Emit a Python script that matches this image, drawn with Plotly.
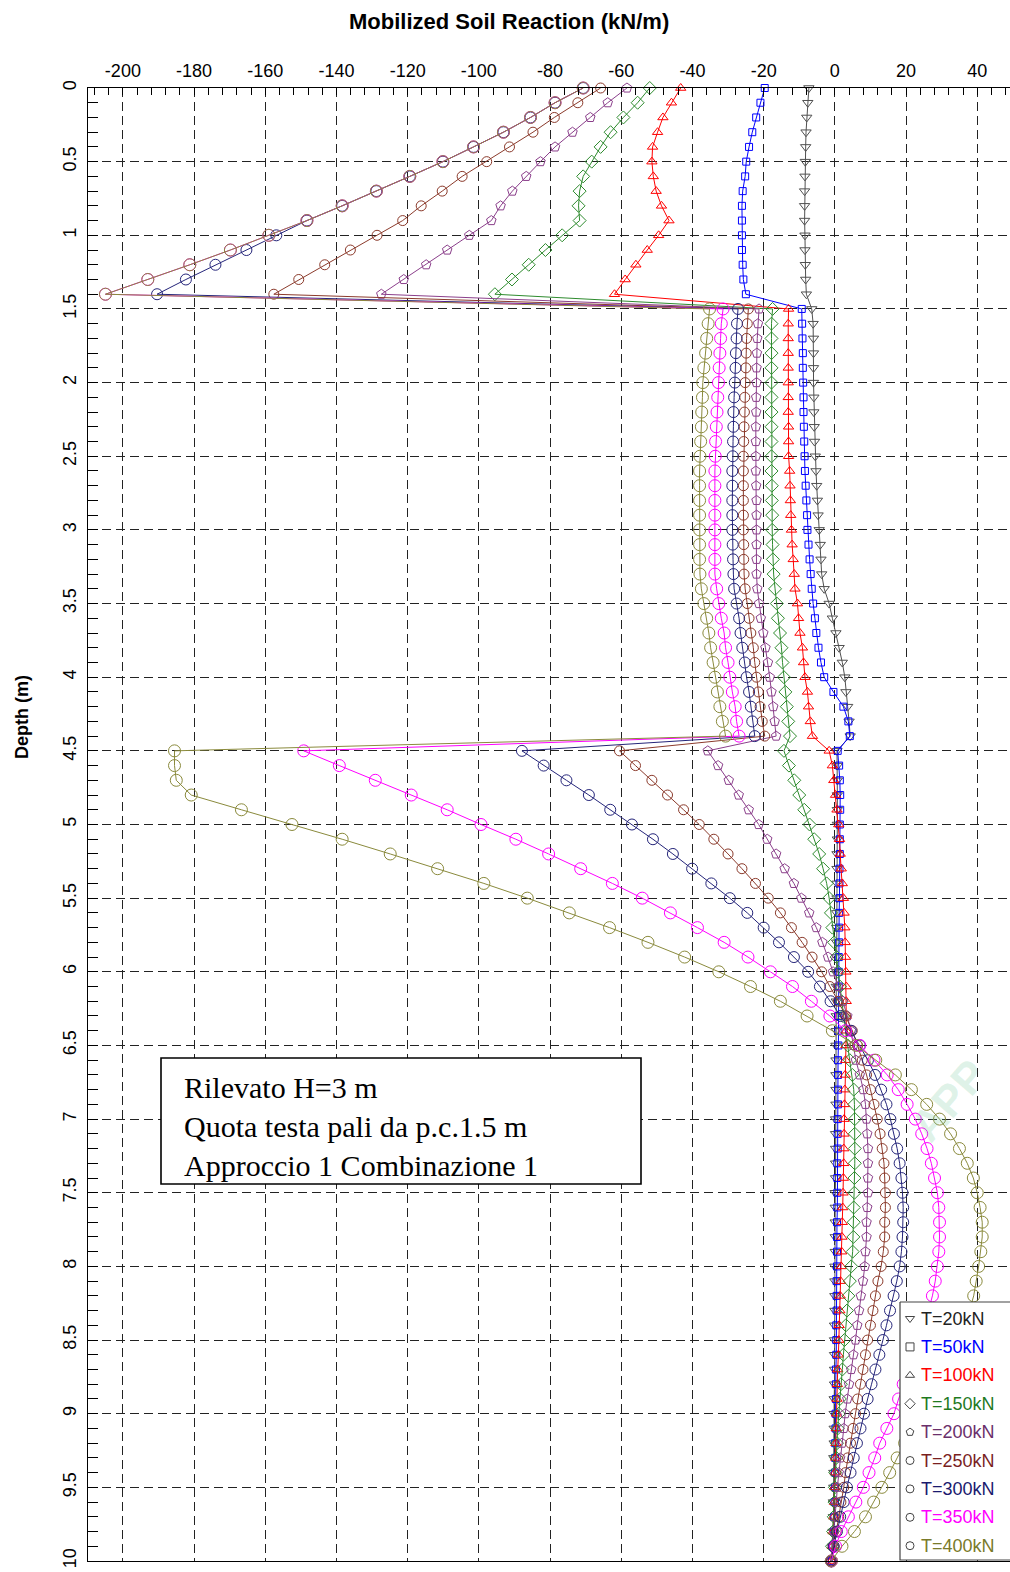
import plotly.graph_objects as go

# ---------------- data ----------------
DEPTH = [
    0.0, 0.1, 0.2, 0.3, 0.4, 0.5, 0.6, 0.7, 0.8, 0.9,
    1.0, 1.1, 1.2, 1.3, 1.4, 1.5, 1.6, 1.7, 1.8, 1.9,
    2.0, 2.1, 2.2, 2.3, 2.4, 2.5, 2.6, 2.7, 2.8, 2.9,
    3.0, 3.1, 3.2, 3.3, 3.4, 3.5, 3.6, 3.7, 3.8, 3.9,
    4.0, 4.1, 4.2, 4.3, 4.4, 4.5, 4.6, 4.7, 4.8, 4.9,
    5.0, 5.1, 5.2, 5.3, 5.4, 5.5, 5.6, 5.7, 5.8, 5.9,
    6.0, 6.1, 6.2, 6.3, 6.4, 6.5, 6.6, 6.7, 6.8, 6.9,
    7.0, 7.1, 7.2, 7.3, 7.4, 7.5, 7.6, 7.7, 7.8, 7.9,
    8.0, 8.1, 8.2, 8.3, 8.4, 8.5, 8.6, 8.7, 8.8, 8.9,
    9.0, 9.1, 9.2, 9.3, 9.4, 9.5, 9.6, 9.7, 9.8, 9.9,
    10.0,
]

T20 = [
    -7.3, -7.6, -7.9, -8.1, -8.2, -8.3, -8.4, -8.5, -8.5, -8.5,
    -8.4, -8.4, -8.3, -8.2, -8.0, -6.5, -6.1, -6.0, -6.0, -6.0,
    -6.0, -5.9, -5.9, -5.8, -5.7, -5.5, -5.3, -5.1, -4.9, -4.7,
    -4.4, -4.1, -3.9, -3.7, -3.0, -1.6, -0.7, 0.3, 1.2, 2.1,
    2.8, 3.1, 3.6, 4.0, 4.3, 0.6, 0.7, 0.7, 0.7, 0.7,
    0.7, 0.7, 0.6, 0.6, 0.6, 0.6, 0.5, 0.5, 0.5, 0.5,
    0.5, 0.4, 0.4, 0.4, 0.4, 0.3, 0.3, 0.3, 0.3, 0.3,
    0.2, 0.2, 0.2, 0.2, 0.2, 0.1, 0.1, 0.1, 0.1, 0.1,
    0.0, 0.0, 0.0, 0.0, -0.1, -0.1, -0.1, -0.1, -0.1, -0.2,
    -0.2, -0.2, -0.2, -0.3, -0.3, -0.3, -0.4, -0.4, -0.5, -0.6,
    -0.8,
]

T50 = [
    -19.7, -20.9, -22.1, -23.2, -24.1, -24.9, -25.2, -25.9, -26.1, -26.1,
    -26.1, -26.1, -25.9, -25.7, -25.0, -9.3, -9.2, -9.1, -9.0, -9.0,
    -8.9, -8.8, -8.8, -8.7, -8.6, -8.5, -8.4, -8.2, -8.0, -7.8,
    -7.7, -7.4, -7.1, -6.8, -6.5, -6.1, -5.6, -5.2, -4.6, -3.9,
    -3.0, -0.4, 2.4, 3.8, 4.2, 0.8, 1.2, 1.4, 1.5, 1.5,
    1.4, 1.4, 1.4, 1.3, 1.3, 1.3, 1.2, 1.2, 1.2, 1.1,
    1.1, 1.1, 1.0, 1.0, 1.0, 1.0, 0.9, 0.9, 0.9, 0.9,
    0.8, 0.8, 0.8, 0.7, 0.7, 0.7, 0.7, 0.6, 0.6, 0.6,
    0.6, 0.5, 0.5, 0.5, 0.4, 0.4, 0.4, 0.3, 0.3, 0.3,
    0.2, 0.2, 0.1, 0.1, 0.0, 0.0, -0.1, -0.2, -0.3, -0.5,
    -0.8,
]

T100 = [
    -43.3, -45.9, -48.3, -49.8, -51.2, -51.4, -51.0, -50.2, -48.7, -46.6,
    -49.5, -52.7, -55.9, -58.9, -61.9, -13.0, -13.1, -13.1, -13.1, -13.1,
    -13.1, -13.1, -13.1, -13.0, -13.0, -13.0, -12.7, -12.6, -12.5, -12.4,
    -12.2, -12.0, -11.7, -11.4, -11.2, -10.5, -10.2, -9.8, -9.1, -8.8,
    -8.4, -7.7, -7.4, -6.9, -6.3, -1.6, -0.7, -0.3, 0.2, 0.6,
    1.1, 1.3, 1.5, 1.8, 2.1, 2.4, 2.6, 2.8, 2.9, 3.0,
    3.1, 3.2, 3.2, 3.2, 3.2, 3.1, 3.0, 2.9, 2.8, 2.7,
    2.6, 2.6, 2.5, 2.5, 2.4, 2.3, 2.2, 2.1, 2.0, 1.9,
    1.8, 1.6, 1.5, 1.4, 1.2, 1.1, 1.0, 0.8, 0.7, 0.6,
    0.5, 0.4, 0.3, 0.2, 0.1, 0.0, -0.1, -0.3, -0.5, -0.7,
    -1.0,
]

T150 = [
    -52.0, -55.4, -59.4, -63.0, -65.8, -68.3, -70.7, -71.7, -72.0, -71.7,
    -76.6, -81.3, -86.0, -90.7, -95.5, -17.5, -17.8, -17.8, -17.8, -17.8,
    -17.8, -17.8, -17.8, -17.8, -17.8, -17.8, -17.8, -17.7, -17.7, -17.6,
    -17.6, -17.5, -17.4, -17.2, -16.8, -16.3, -16.0, -15.4, -15.0, -14.7,
    -14.3, -13.9, -13.5, -13.1, -12.6, -14.3, -12.9, -11.4, -10.0, -8.6,
    -7.1, -5.8, -4.4, -3.3, -2.3, -1.6, -1.1, -0.7, -0.2, 0.5,
    0.9, 1.4, 1.9, 2.3, 3.0, 3.6, 4.2, 4.9, 5.3, 5.5,
    5.6, 5.6, 5.6, 5.6, 5.5, 5.5, 5.3, 5.3, 5.2, 5.0,
    4.6, 4.2, 3.8, 3.4, 3.1, 2.7, 2.4, 2.1, 1.7, 1.4,
    1.1, 0.8, 0.6, 0.4, 0.1, 0.0, -0.1, -0.3, -0.5, -0.8,
    -1.0,
]

T200 = [
    -58.4, -63.8, -68.7, -73.7, -78.6, -82.7, -86.7, -90.6, -93.9, -96.5,
    -102.7, -108.9, -114.8, -121.1, -127.4, -21.3, -21.6, -21.8, -21.9, -22.0,
    -22.0, -22.1, -22.1, -22.2, -22.2, -22.2, -22.2, -22.1, -22.0, -22.0,
    -22.0, -22.0, -22.0, -22.0, -21.8, -21.3, -20.8, -20.1, -19.5, -18.8,
    -18.3, -17.8, -17.3, -16.9, -16.5, -35.7, -32.8, -29.8, -27.0, -24.2,
    -21.4, -19.0, -16.5, -14.1, -11.5, -9.4, -7.2, -5.2, -3.5, -1.9,
    -0.5, 0.9, 2.3, 3.5, 4.5, 5.2, 5.9, 7.0, 8.0, 8.6,
    8.9, 9.1, 9.3, 9.3, 9.3, 9.3, 9.1, 8.9, 8.9, 8.6,
    8.4, 7.9, 7.3, 6.8, 6.3, 5.8, 5.2, 4.6, 4.0, 3.5,
    2.9, 2.5, 2.0, 1.5, 1.1, 0.7, 0.4, 0.1, -0.2, -0.7,
    -1.2,
]

T250 = [
    -65.8, -72.2, -78.8, -84.8, -91.4, -97.8, -104.7, -110.3, -116.2, -121.4,
    -128.6, -136.1, -143.3, -150.6, -157.6, -24.3, -24.6, -24.8, -24.9, -25.0,
    -25.2, -25.3, -25.4, -25.5, -25.6, -25.7, -25.7, -25.7, -25.7, -25.7,
    -25.7, -25.6, -25.6, -25.5, -25.2, -24.6, -24.1, -23.6, -22.9, -22.5,
    -22.0, -21.5, -21.0, -20.4, -19.7, -60.5, -56.0, -51.4, -47.0, -42.5,
    -38.1, -34.0, -30.0, -26.1, -22.3, -18.7, -15.3, -12.2, -9.2, -6.4,
    -3.7, -1.4, 1.0, 3.0, 4.9, 6.4, 7.7, 8.9, 10.0, 11.0,
    11.9, 12.7, 13.3, 13.8, 14.0, 14.2, 14.2, 14.0, 14.0, 13.6,
    13.0, 12.1, 11.4, 10.7, 10.0, 9.2, 8.6, 7.9, 7.2, 6.4,
    5.8, 5.1, 4.4, 3.6, 3.0, 2.5, 1.7, 1.1, 0.4, -0.3,
    -1.0,
]

T300 = [
    -70.7, -78.6, -85.5, -93.1, -101.5, -110.1, -119.4, -128.8, -138.4, -148.3,
    -156.9, -165.3, -174.0, -182.3, -190.4, -27.2, -27.5, -27.6, -27.8, -27.9,
    -28.1, -28.3, -28.5, -28.5, -28.6, -28.7, -28.8, -28.8, -28.8, -28.8,
    -28.8, -28.7, -28.6, -28.5, -28.3, -27.6, -26.9, -26.5, -26.0, -25.3,
    -24.8, -24.1, -23.6, -23.2, -22.5, -87.9, -81.8, -75.4, -69.1, -63.1,
    -57.0, -51.1, -45.5, -40.1, -34.7, -29.5, -24.6, -20.0, -15.7, -11.5,
    -7.5, -4.2, -1.2, 1.6, 4.5, 7.0, 9.3, 11.3, 13.0, 14.5,
    15.6, 16.6, 17.5, 18.2, 18.7, 19.0, 19.2, 19.2, 19.0, 18.7,
    18.2, 17.4, 16.5, 15.5, 14.5, 13.5, 12.5, 11.4, 10.3, 9.2,
    8.2, 7.2, 6.2, 5.3, 4.4, 3.4, 2.5, 1.5, 0.6, -0.3,
    -1.0,
]

T350 = [
    -70.7, -78.6, -85.5, -93.1, -101.5, -110.1, -119.4, -128.8, -138.4, -148.3,
    -159.0, -169.8, -181.2, -193.0, -204.9, -31.4, -31.9, -32.1, -32.3, -32.5,
    -32.7, -32.9, -33.1, -33.3, -33.5, -33.6, -33.7, -33.7, -33.7, -33.7,
    -33.7, -33.7, -33.7, -33.7, -33.2, -32.6, -31.9, -31.1, -30.7, -30.0,
    -29.5, -28.8, -28.0, -27.6, -26.9, -149.2, -139.2, -129.1, -119.0, -108.9,
    -99.4, -89.6, -80.4, -71.4, -62.5, -54.1, -46.2, -38.6, -31.1, -24.4,
    -18.1, -11.9, -6.6, -1.4, 3.0, 7.0, 11.0, 14.7, 17.8, 20.3,
    22.6, 24.4, 25.9, 27.1, 28.0, 28.8, 29.2, 29.4, 29.4, 29.2,
    28.8, 28.2, 27.4, 26.4, 25.2, 23.8, 22.3, 20.7, 19.2, 17.9,
    16.6, 14.6, 12.6, 11.2, 9.6, 8.0, 5.9, 3.8, 1.8, 0.2,
    -1.0,
]

T400 = [
    -70.7, -78.6, -85.5, -93.1, -101.5, -110.1, -119.4, -128.8, -138.4, -148.3,
    -159.0, -169.8, -181.2, -193.0, -204.9, -35.2, -35.6, -36.0, -36.3, -36.8,
    -37.1, -37.2, -37.4, -37.5, -37.7, -37.9, -38.0, -38.0, -38.0, -38.0,
    -38.0, -38.0, -38.0, -37.9, -37.5, -36.8, -36.0, -35.4, -34.9, -34.2,
    -33.7, -33.0, -32.3, -31.6, -30.7, -185.5, -185.5, -185.0, -180.8, -166.7,
    -152.5, -138.4, -124.9, -111.6, -98.6, -86.4, -74.6, -63.3, -52.5, -42.2,
    -32.6, -23.7, -15.3, -7.8, -0.7, 6.0, 11.5, 17.0, 21.5, 25.8,
    29.4, 32.5, 35.0, 37.2, 38.9, 40.0, 40.8, 41.4, 41.4, 41.0,
    40.4, 39.7, 39.0, 37.8, 36.3, 34.5, 32.6, 30.5, 28.3, 26.1,
    23.9, 21.7, 19.6, 17.5, 15.4, 13.2, 10.9, 8.6, 5.5, 2.0,
    -1.0,
]

SERIES = [T20, T50, T100, T150, T200, T250, T300, T350, T400]
SERIES_NAMES = ["T=20kN", "T=50kN", "T=100kN", "T=150kN", "T=200kN",
                "T=250kN", "T=300kN", "T=350kN", "T=400kN"]

X_TICKS = [-200, -180, -160, -140, -120, -100, -80, -60, -40, -20, 0, 20, 40]
X_TICK_TEXT = ["-200", "-180", "-160", "-140", "-120", "-100", "-80", "-60",
               "-40", "-20", "0", "20", "40"]
Y_TICKS = [0, 0.5, 1, 1.5, 2, 2.5, 3, 3.5, 4, 4.5, 5, 5.5, 6, 6.5, 7, 7.5,
           8, 8.5, 9, 9.5, 10]
Y_TICK_TEXT = ["0", "0.5", "1", "1.5", "2", "2.5", "3", "3.5", "4", "4.5",
               "5", "5.5", "6", "6.5", "7", "7.5", "8", "8.5", "9", "9.5", "10"]

NOTE_LINES = ["Rilevato H=3 m", "Quota testa pali da p.c.1.5 m",
              "Approccio 1 Combinazione 1"]

# ---------------- styles ----------------
LINE_COLORS = ["#505050", "#0000ff", "#ff0000", "#2e8b2e", "#8b3f8b",
               "#8b3a2b", "#25257a", "#ff00ff", "#8a8a3c"]
TEXT_COLORS = ["#222222", "#0000ff", "#ff0000", "#1f7a1f", "#6b2f6b",
               "#7a1f1f", "#1a1a6e", "#ff00ff", "#7a7a2a"]
SYMBOLS = ["triangle-down-open", "square-open", "triangle-up-open",
           "diamond-open", "pentagon-open", "circle-open", "circle-open",
           "circle-open", "circle-open"]
SIZES = [9, 7, 9, 10, 10, 10, 11, 12, 12]

W, H = 1010, 1572
ML, MT, MR, MB = 88, 88, 0, 11
PW, PH = W - ML - MR, H - MT - MB
SANS = "Liberation Sans, Arial, sans-serif"
SERIF = "Liberation Serif, Times New Roman, serif"


def paper_x(px):
    return (px - ML) / PW


def paper_y(py):
    return (H - MB - py) / PH


fig = go.Figure()

for vals, name, col, sym, sz in zip(SERIES, SERIES_NAMES, LINE_COLORS, SYMBOLS, SIZES):
    fig.add_trace(go.Scatter(
        x=vals, y=DEPTH, mode="lines+markers", name=name,
        line=dict(color=col, width=1),
        marker=dict(symbol=sym, size=sz, color=col, line=dict(width=1, color=col)),
        showlegend=False, cliponaxis=False, xaxis="x", yaxis="y"))

# legend frame (overlay axes in pixel units)
LEG_L, LEG_T = 900, 1302
fig.add_trace(go.Scatter(
    x=[LEG_L, 1030, 1030, LEG_L, LEG_L], y=[LEG_T, LEG_T, 1560, 1560, LEG_T],
    mode="lines", fill="toself", fillcolor="white",
    line=dict(color="#444444", width=1.2), hoverinfo="skip",
    showlegend=False, xaxis="x2", yaxis="y2"))

leg_y = [LEG_T + 16.5 + i * 28.4 for i in range(len(SERIES_NAMES))]
fig.add_trace(go.Scatter(
    x=[910] * len(SERIES_NAMES), y=leg_y, mode="markers",
    marker=dict(symbol=SYMBOLS, size=8, color="#444444",
                line=dict(width=1, color="#444444")),
    hoverinfo="skip", showlegend=False, xaxis="x2", yaxis="y2"))

annotations = []
for name, tc, yy in zip(SERIES_NAMES, TEXT_COLORS, leg_y):
    annotations.append(dict(
        x=919, y=yy, xref="x2", yref="y2", text=name, showarrow=False,
        xanchor="left", yanchor="middle",
        font=dict(family=SANS, size=18, color=tc)))

# chart title and y title
annotations.append(dict(
    x=paper_x(509), y=paper_y(22), xref="paper", yref="paper",
    text="<b>Mobilized Soil Reaction (kN/m)</b>", showarrow=False,
    xanchor="center", yanchor="middle",
    font=dict(family=SANS, size=22, color="black")))
annotations.append(dict(
    x=paper_x(22), y=paper_y(717), xref="paper", yref="paper",
    text="<b>Depth (m)</b>", showarrow=False, textangle=-90,
    xanchor="center", yanchor="middle",
    font=dict(family=SANS, size=18, color="black")))

# note box
BOX = dict(x0=161, x1=641, y0=1058, y1=1184)
shapes = [dict(type="rect", xref="x2", yref="y2", layer="above",
               x0=BOX["x0"], x1=BOX["x1"], y0=BOX["y0"], y1=BOX["y1"],
               line=dict(color="black", width=1.6), fillcolor="white")]
annotations.append(dict(
    x=182, y=BOX["y0"] + 11, xref="x2", yref="y2",
    text="<br>".join(NOTE_LINES), showarrow=False, align="left",
    xanchor="left", yanchor="top",
    font=dict(family=SERIF, size=30, color="black")))

# faint watermark (only its visible part)
annotations.append(dict(
    x=paper_x(948), y=paper_y(1100), xref="paper", yref="paper",
    text="<b>APP</b>", showarrow=False, textangle=-49,
    xanchor="center", yanchor="middle",
    font=dict(family=SANS, size=44, color="rgba(110,200,150,0.22)")))

fig.update_layout(
    width=W, height=H,
    margin=dict(l=ML, r=MR, t=MT, b=MB, pad=0),
    paper_bgcolor="white", plot_bgcolor="white",
    showlegend=False,
    annotations=annotations, shapes=shapes,
    xaxis=dict(
        range=[-209.8, 49.2], side="top",
        tickmode="array", tickvals=X_TICKS, ticktext=X_TICK_TEXT,
        ticks="inside", ticklen=7, tickwidth=1, tickcolor="black",
        minor=dict(dtick=4, tick0=0, ticks="inside", ticklen=7, tickwidth=1,
                   tickcolor="black", showgrid=False),
        showgrid=True, gridcolor="#222222", gridwidth=1, griddash="9px,5px",
        showline=True, linecolor="black", linewidth=1, mirror=True,
        zeroline=False, ticklabelstandoff=3,
        tickfont=dict(family=SANS, size=18, color="black")),
    yaxis=dict(
        range=[10, 0],
        tickmode="array", tickvals=Y_TICKS, ticktext=Y_TICK_TEXT,
        ticks="inside", ticklen=10, tickwidth=1, tickcolor="black",
        minor=dict(dtick=0.1, tick0=0, ticks="inside", ticklen=10, tickwidth=1,
                   tickcolor="black", showgrid=False),
        showgrid=True, gridcolor="#222222", gridwidth=1, griddash="9px,5px",
        showline=True, linecolor="black", linewidth=1, mirror=False,
        zeroline=False, tickangle=-90, ticklabelstandoff=4,
        tickfont=dict(family=SANS, size=18, color="black")),
    xaxis2=dict(range=[ML, W], overlaying="x", visible=False, fixedrange=True),
    yaxis2=dict(range=[H - MB, MT], overlaying="y", visible=False, fixedrange=True),
)

fig.write_html("out.html")
